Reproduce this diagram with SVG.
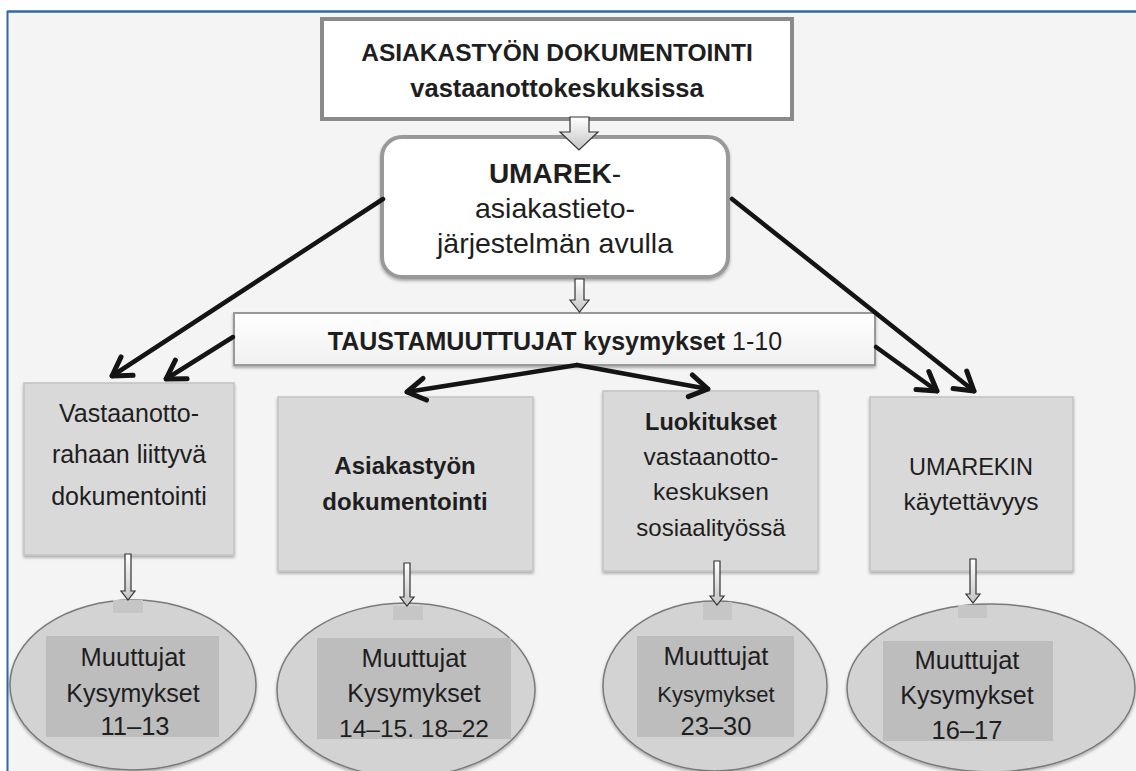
<svg xmlns="http://www.w3.org/2000/svg" width="1136" height="771" viewBox="0 0 1136 771">
<style>
text{font-family:"Liberation Sans",Arial,sans-serif;fill:#1e1e1e;text-anchor:middle}
.b{font-weight:bold}
.box{fill:#d9d9d9;stroke:#c2c2c2;stroke-width:1.5}
.ell{fill:#d3d3d3;stroke:#7a7a7a;stroke-width:1.5}
.inner{fill:#bdbdbd}
.sq{fill:#c6c6c6}
.conn{stroke:#141414;stroke-width:4.5;fill:none;stroke-linecap:round}
.blk{fill:url(#bg);stroke:#333;stroke-width:1.2;stroke-linejoin:miter}
</style>
<defs>
<linearGradient id="bg" x1="0" y1="0" x2="0" y2="1">
<stop offset="0" stop-color="#ffffff"/><stop offset="1" stop-color="#c4c4c4"/>
</linearGradient>
<linearGradient id="tg" x1="0" y1="0" x2="0" y2="1">
<stop offset="0" stop-color="#ffffff"/><stop offset="1" stop-color="#f0f0f0"/>
</linearGradient>
<filter id="sh" x="-10%" y="-10%" width="120%" height="130%">
<feDropShadow dx="0" dy="2" stdDeviation="1.5" flood-color="#000" flood-opacity="0.3"/>
</filter>
<marker id="ah" viewBox="-24 -15 28 30" refX="0" refY="0" markerWidth="28" markerHeight="30" markerUnits="userSpaceOnUse" orient="auto">
<path d="M-18,-11 L0,0 L-18,11" fill="none" stroke="#141414" stroke-width="5" stroke-linejoin="round" stroke-linecap="round"/>
</marker>
</defs>

<rect x="0" y="0" width="1136" height="771" fill="#ffffff"/>
<rect x="7" y="11" width="1129" height="760" fill="#f4f4f4"/>
<line x1="7" y1="11.5" x2="1136" y2="11.5" stroke="#2f6aa3" stroke-width="2.5"/>
<line x1="7.5" y1="11" x2="7.5" y2="771" stroke="#2f6aa3" stroke-width="2"/>

<g id="title">
<rect x="322" y="19" width="470" height="100" fill="#ffffff" stroke="#8a8a8a" stroke-width="4"/>
<text x="557" y="61" class="b" font-size="24.5">ASIAKASTYÖN DOKUMENTOINTI</text>
<text x="557" y="97" class="b" font-size="25.5">vastaanottokeskuksissa</text>
</g>

<g id="umarek">
<rect x="382" y="137" width="346" height="140" rx="20" fill="#ffffff" stroke="#999999" stroke-width="4" filter="url(#sh)"/>
<text x="555" y="183" font-size="28"><tspan class="b">UMAREK</tspan>-</text>
<text x="555" y="218" font-size="28.5">asiakastieto-</text>
<text x="555" y="253" font-size="28.5">järjestelmän avulla</text>
</g>

<g id="tausta">
<rect x="234" y="313" width="641" height="52" fill="url(#tg)" stroke="#999999" stroke-width="2" filter="url(#sh)"/>
<text x="555" y="350" font-size="25"><tspan class="b">TAUSTAMUUTTUJAT kysymykset</tspan> 1-10</text>
</g>

<g id="box1">
<rect x="24" y="383" width="210" height="172" class="box" filter="url(#sh)"/>
<text x="129" y="422" font-size="25">Vastaanotto-</text>
<text x="129" y="463" font-size="25">rahaan liittyvä</text>
<text x="129" y="505" font-size="25">dokumentointi</text>
</g>

<g id="box2">
<rect x="278" y="397" width="255" height="174" class="box" filter="url(#sh)"/>
<text x="405" y="474" class="b" font-size="24">Asiakastyön</text>
<text x="405" y="510" class="b" font-size="24">dokumentointi</text>
</g>

<g id="box3">
<rect x="603" y="391" width="215" height="180" class="box" filter="url(#sh)"/>
<text x="711" y="430" class="b" font-size="23.5">Luokitukset</text>
<text x="711" y="465" font-size="24.5">vastaanotto-</text>
<text x="711" y="500" font-size="24.5">keskuksen</text>
<text x="711" y="536" font-size="24">sosiaalityössä</text>
</g>

<g id="box4">
<rect x="870" y="397" width="203" height="174" class="box" filter="url(#sh)"/>
<text x="971" y="475" font-size="23.5">UMAREKIN</text>
<text x="971" y="510" font-size="24.5">käytettävyys</text>
</g>

<g id="ell1">
<ellipse cx="133" cy="685" rx="123" ry="85" class="ell" filter="url(#sh)"/>
<rect x="46" y="636" width="173" height="101" class="inner"/>
<rect x="113" y="600" width="30" height="13" class="sq"/>
<text x="133" y="666" font-size="25.5">Muuttujat</text>
<text x="133" y="702" font-size="25">Kysymykset</text>
<text x="135" y="735" font-size="25.5">11–13</text>
</g>

<g id="ell2">
<ellipse cx="406" cy="690" rx="129" ry="87" class="ell" filter="url(#sh)"/>
<rect x="317" y="638" width="194" height="101" class="inner"/>
<rect x="393" y="606" width="30" height="14" class="sq"/>
<text x="414" y="667" font-size="25.5">Muuttujat</text>
<text x="414" y="702" font-size="25">Kysymykset</text>
<text x="414" y="737" font-size="24.5">14–15. 18–22</text>
</g>

<g id="ell3">
<ellipse cx="715" cy="686" rx="112" ry="85" class="ell" filter="url(#sh)"/>
<rect x="637" y="636" width="157" height="101" class="inner"/>
<rect x="703" y="602" width="29" height="18" class="sq"/>
<text x="716" y="665" font-size="25.5">Muuttujat</text>
<text x="716" y="702" font-size="22">Kysymykset</text>
<text x="716" y="735" font-size="25.5">23–30</text>
</g>

<g id="ell4">
<ellipse cx="991" cy="688" rx="144" ry="84" class="ell" filter="url(#sh)"/>
<rect x="883" y="641" width="170" height="100" class="inner"/>
<rect x="958" y="605" width="29" height="13" class="sq"/>
<text x="967" y="669" font-size="25.5">Muuttujat</text>
<text x="967" y="704" font-size="25">Kysymykset</text>
<text x="967" y="739" font-size="25.5">16–17</text>
</g>

<g id="connectors">
<polygon class="blk" points="570,117 589,117 589,132 598,132 579,150 560,132 570,132"/>
<polygon class="blk" points="575,279 584,279 584,300 589,300 579.5,312 570,300 575,300"/>
<polygon class="blk" points="125,554 131,554 131,591 135,591 128,600 121,591 125,591"/>
<polygon class="blk" points="404,563 410,563 410,597 414,597 407,606 400,597 404,597"/>
<polygon class="blk" points="714,561 720,561 720,596 724,596 717,605 710,596 714,596"/>
<polygon class="blk" points="970,559 976,559 976,594 980,594 973,603 966,594 970,594"/>
<path class="conn" d="M383,199 L112,376" marker-end="url(#ah)"/>
<path class="conn" d="M233,337 L166,379" marker-end="url(#ah)"/>
<path class="conn" d="M577,365 L407,392" marker-end="url(#ah)"/>
<path class="conn" d="M577,365 L708,389" marker-end="url(#ah)"/>
<path class="conn" d="M876,347 L937,391" marker-end="url(#ah)"/>
<path class="conn" d="M732,199 L974,391" marker-end="url(#ah)"/>
</g>
</svg>
